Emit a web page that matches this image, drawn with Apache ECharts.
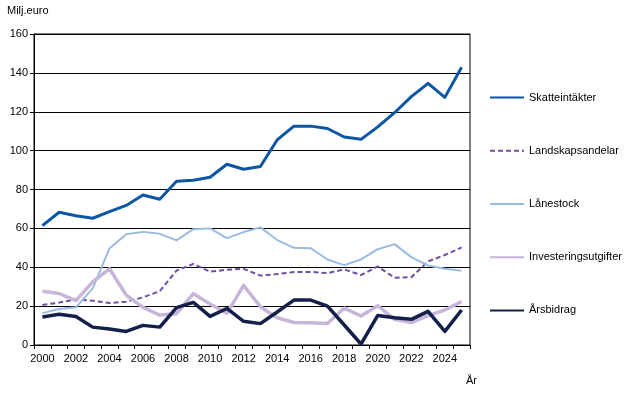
<!DOCTYPE html>
<html>
<head>
<meta charset="utf-8">
<script src="https://cdn.jsdelivr.net/npm/echarts@6/dist/echarts.min.js"></script>
<style>html,body{margin:0;padding:0;background:#fff}#c{width:632px;height:403px}</style>
</head>
<body>
<div id="c"></div>
<script>
var years = ['2000','2001','2002','2003','2004','2005','2006','2007','2008','2009','2010','2011','2012','2013','2014','2015','2016','2017','2018','2019','2020','2021','2022','2023','2024','2025'];
var skatteintakter = [61.4,68.3,66.5,65.2,68.6,71.8,77.2,75.0,84.2,84.8,86.3,93.0,90.4,91.8,105.5,112.6,112.6,111.4,107.0,105.8,112.2,119.5,127.8,134.6,127.4,142.9];
var landskapsandelar = [20.6,21.8,23.6,22.8,21.6,22.3,24.5,27.7,38.3,41.7,37.7,38.7,39.2,35.7,36.5,37.5,37.6,37.0,38.9,36.0,40.4,34.6,34.9,43.0,46.3,50.2];
var lanestock = [16.4,18.5,19.4,29.1,49.7,57.0,58.2,57.2,53.8,59.6,60.0,55.0,58.1,60.5,54.0,50.0,49.8,44.0,41.1,44.0,49.3,51.9,45.2,40.9,39.2,38.2];
var investeringsutgifter = [27.6,26.5,22.8,32.5,39.2,25.7,19.4,15.4,16.1,26.4,21.1,16.3,30.7,19.7,14.0,11.6,11.5,11.1,19.0,14.9,20.2,13.2,11.5,15.1,18.0,22.4];
var arsbidrag = [14.4,15.8,14.7,9.2,8.2,7.0,10.1,9.2,19.2,21.9,14.7,18.8,12.2,11.0,17.0,23.1,23.1,20.0,10.3,0.5,15.2,14.0,13.2,17.3,7.0,18.0];
var seriesNames = ['Skatteintäkter','Landskapsandelar','Lånestock','Investeringsutgifter','Årsbidrag'];

var font = 'Liberation Sans, Arial, sans-serif';
var chart = echarts.init(document.getElementById('c'), null, {renderer:'canvas'});
function mk(name, data, color, width, type) {
  return {
    name: name, type: 'line', data: data, symbol: 'none', showSymbol: false,
    lineStyle: {color: color, width: width, type: type || 'solid', cap: 'butt', join: 'round'},
    itemStyle: {color: color}, animation: false, z: 2
  };
}
chart.setOption({
  animation: false,
  backgroundColor: '#fff',
  grid: {left: 34, right: 162, top: 34, bottom: 58, show: true, borderColor: '#000', borderWidth: 1, backgroundColor: 'transparent'},
  xAxis: {
    type: 'category', data: years, boundaryGap: true,
    axisLine: {show: true, lineStyle: {color: '#000', width: 1}},
    axisTick: {show: true, interval: 0, alignWithLabel: false, length: 4, inside: false, lineStyle: {color: '#000'}},
    axisLabel: {interval: 1, margin: 8, color: '#000', fontFamily: font, fontSize: 11},
    splitLine: {show: false}
  },
  yAxis: {
    type: 'value', min: 0, max: 160, interval: 20,
    axisLine: {show: true, lineStyle: {color: '#000', width: 1}},
    axisTick: {show: true, length: 4, lineStyle: {color: '#000'}},
    axisLabel: {margin: 6, color: '#000', fontFamily: font, fontSize: 11},
    splitLine: {show: true, lineStyle: {color: '#000', width: 1}}
  },
  legend: {
    orient: 'vertical', left: 489, top: 92, padding: 0, itemWidth: 34, itemHeight: 14, itemGap: 42,
    itemStyle: {opacity: 0, borderWidth: 0},
    textStyle: {color: '#000', fontFamily: font, fontSize: 11, padding: [0,0,0,0]},
    data: seriesNames, selectedMode: false
  },
  graphic: [
    {type: 'text', left: 7, top: 5, style: {text: 'Milj.euro', fill: '#000', font: '11px ' + font}},
    {type: 'text', left: 466, top: 375, style: {text: 'År', fill: '#000', font: '11px ' + font}}
  ],
  series: [
    mk(seriesNames[0], skatteintakter, '#0D55A5', 3),
    mk(seriesNames[1], landskapsandelar, '#6E4FA3', 2, [5, 3]),
    mk(seriesNames[2], lanestock, '#9BBCE0', 2),
    mk(seriesNames[3], investeringsutgifter, '#C8B6D9', 3.5),
    mk(seriesNames[4], arsbidrag, '#12204A', 3.5)
  ]
});
</script>
</body>
</html>
